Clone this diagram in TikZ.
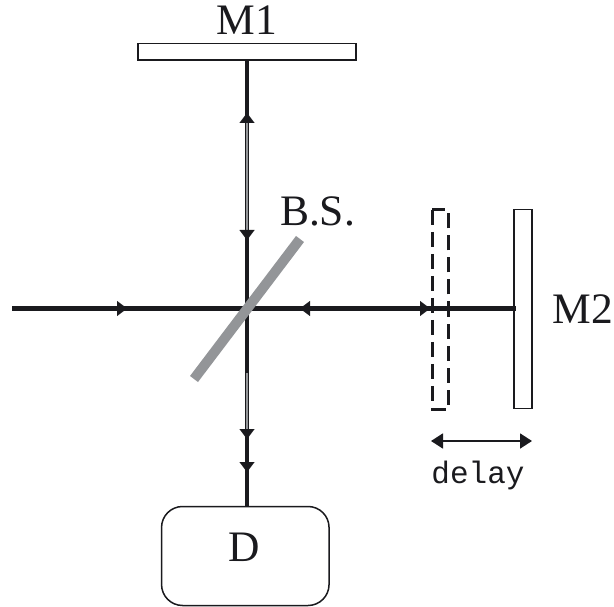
\documentclass[tikz,border=0pt]{standalone}
\usepackage{fontspec}
\setmainfont{Liberation Serif}
\setmonofont{Liberation Mono}
\usetikzlibrary{arrows.meta}
\definecolor{ink}{HTML}{1A1A1E}
\definecolor{plate}{HTML}{939598}
\tikzset{
  x=1pt,y=-1pt,
  beam/.style={draw=ink,line width=4.2pt},
  core/.style={draw=plate,line width=1.9pt},
  mirror/.style={draw=ink,line width=1.5pt,fill=white,inner sep=0pt,minimum width=#1},
  label/.style={font=\fontsize{43.5}{43.5}\selectfont,text=ink,inner sep=0pt},
  tiphead/.style={draw=ink,line width=0.01pt,-{Triangle[length=10pt,width=15pt]}},
}
\begin{document}
\begin{tikzpicture}
\useasboundingbox (0,0) rectangle (614,607);
\path[fill=white] (0,0) rectangle (614,607);
% optics
\node[mirror=218pt,minimum height=16.5pt] (m1) at (247,52) {};
\node[mirror=18pt,minimum height=199pt] (m2) at (523,309) {};
\node[minimum width=15.5pt,minimum height=199pt,inner sep=0pt] (m2d) at (440.3,309.5) {};
\draw[draw=ink,line width=3.2pt,dash pattern=on 15pt off 7pt] (m2d.north west) -- (m2d.south west) -- (m2d.south east) -- (m2d.north east) -- cycle;
\node[draw=ink,line width=1.5pt,rounded corners=21pt,minimum width=167.5pt,minimum height=99pt,inner sep=0pt,fill=white] (det) at (245.3,556) {};
\coordinate (bs) at (247,308.5);
\coordinate (in) at (12,308.5);
\coordinate (coreTopA) at (247,122);
\coordinate (coreTopB) at (247,231);
\coordinate (coreBotA) at (247,373);
\coordinate (coreBotB) at (247,430);
\coordinate (bsA) at (300,239);
\coordinate (bsB) at (194,379);
\coordinate (endM2) at (516,308.5);
% beams
\draw[beam] (in) -- (bs);
\draw[beam] (bs) -- (endM2);
\draw[beam] (bs |- m1.south) -- (bs);
\draw[beam] (bs) -- (bs |- det.north);
\draw[core] (coreTopA) -- (coreTopB);
\draw[core] (coreBotA) -- (coreBotB);
% arrowheads on the beams
\foreach \a/\b in {117/127,310/300,419/430}
  \draw[tiphead] (\a,308.5) -- (\b,308.5);
\foreach \a/\b in {122/113,230/240,429/439,462/472}
  \draw[tiphead] (247,\a) -- (247,\b);
% beam splitter
\draw[draw=plate,line width=10pt] (bsA) -- (bsB);
% delay
\coordinate (dA) at (431,441);
\coordinate (dB) at (532,441);
\draw[draw=ink,line width=1.8pt,{Triangle[length=12pt,width=15pt]}-{Triangle[length=12pt,width=15pt]}] (dA) -- (dB);
% labels
\node[label] (t1) at (247,20.5) {M1};
\node[label] (t2) at (583,309) {M2};
\node[label] (t3) at (317.5,211.5) {B.S.};
\node[label] (t4) at (244,547.5) {D};
\node[font=\ttfamily\fontsize{31}{31}\selectfont,text=ink,inner sep=0pt] (t5) at (478,475) {delay};
\end{tikzpicture}
\end{document}
